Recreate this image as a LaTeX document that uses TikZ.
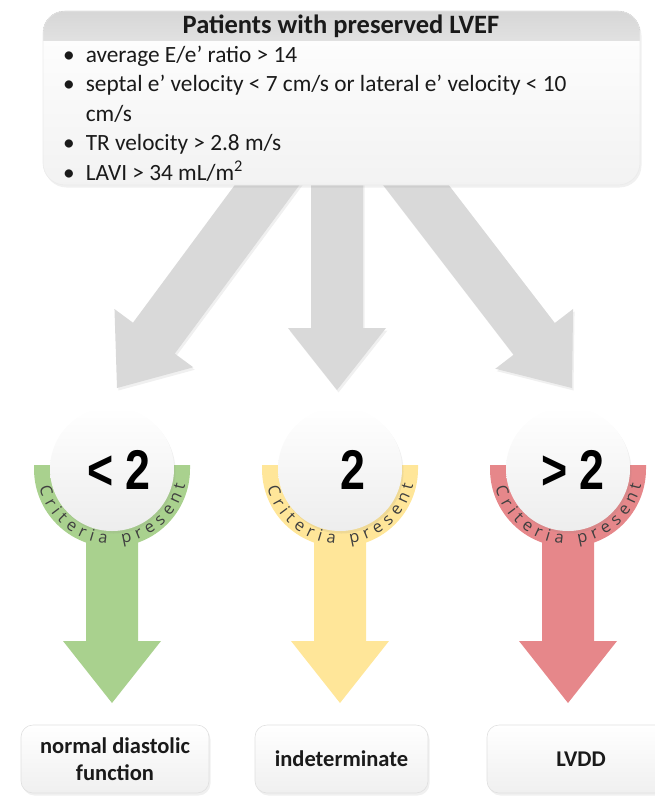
\documentclass[tikz,border=0pt]{standalone}
\usepackage{fontspec}
\setmainfont{Carlito}
\newfontfamily\numfont{Liberation Sans}
\newfontfamily\arcfont{Open Sans}
\usetikzlibrary{calc,shadows,decorations.text}
\definecolor{arrowgray}{HTML}{D9D9D9}
\definecolor{hdrgray}{HTML}{E1E1E1}
\definecolor{cgreen}{HTML}{A9D18E}
\definecolor{cyellow}{HTML}{FFE699}
\definecolor{cred}{HTML}{E6878A}
\definecolor{txt}{HTML}{1A1A1A}
\definecolor{arctxt}{HTML}{404040}
\newcommand\fatarrow[4]{% #1 start, #2 tip, #3 style, #4 prefix
  \coordinate (#4h) at ($(#2)!62pt!(#1)$);
  \fill[#3] ($(#1)!26pt!90:(#2)$) -- ($(#4h)!26pt!-90:(#1)$) -- ($(#4h)!49pt!-90:(#1)$)
    -- (#2) -- ($(#4h)!49pt!90:(#1)$) -- ($(#4h)!26pt!90:(#1)$) -- ($(#1)!26pt!-90:(#2)$) -- cycle;
}
\tikzset{
  softshadow/.style={drop shadow={opacity=0.12,shadow xshift=1.5pt,shadow yshift=-2.5pt}},
  resbox/.style={draw=black!12, line width=0.6pt, rounded corners=12pt, top color=white, bottom color=black!6,
    minimum width=188pt, minimum height=68pt, align=center, text=txt,
    font=\fontsize{22.5}{27}\selectfont\bfseries, softshadow},
  numtext/.style={font=\numfont\bfseries\fontsize{56}{56}\selectfont, text=black, inner sep=0pt},
  disc/.style={circle, minimum size=124pt, inner sep=0pt, top color=white, bottom color=black!7, softshadow},
  arcstyle/.style={decoration={text along path, text align={fit to path},
    text={|\arcfont\fontsize{16.5}{16.5}\selectfont\color{arctxt}|Criteria present}}, decorate},
}
\begin{document}
\begin{tikzpicture}[x=1pt,y=-1pt]
\useasboundingbox (0,0) rectangle (655,797);
% named anchor points
\coordinate (gLs) at (293,150); \coordinate (gLt) at (117,388);
\coordinate (gMs) at (337,150); \coordinate (gMt) at (337,390);
\coordinate (gRs) at (389,150); \coordinate (gRt) at (572,388);
% gray arrows
\fatarrow{gLs}{gLt}{arrowgray, softshadow}{gl}
\fatarrow{gMs}{gMt}{arrowgray, softshadow}{gm}
\fatarrow{gRs}{gRt}{arrowgray, softshadow}{gr}
% top box
\path[softshadow, rounded corners=22pt, top color=white, bottom color=black!5] (43,11) rectangle (640,185);
\begin{scope}
  \clip[rounded corners=22pt] (43,11) rectangle (640,185);
  \fill[top color=black!16, bottom color=hdrgray] (43,11) rectangle (640,41);
\end{scope}
\draw[black!8, line width=0.6pt, rounded corners=22pt] (43,11) rectangle (640,185);
\node[font=\bfseries\fontsize{26.5}{26.5}\selectfont, text=txt, anchor=base] (title) at (341,34) {Patients with preserved LVEF};
\node[anchor=north west, inner sep=0pt, text=txt, font=\fontsize{23.3}{29.5}\selectfont] (crit) at (63,41.5)
 {\begin{tabular}{@{}l@{\hspace{11pt}}l@{}}
  \textbullet & average E/e’ ratio > 14\\
  \textbullet & septal e’ velocity < 7 cm/s or lateral e’ velocity < 10\\
   & cm/s\\
  \textbullet & TR velocity > 2.8 m/s\\
  \textbullet & LAVI > 34 mL/m\textsuperscript{2}
 \end{tabular}};
% three outcome columns
\foreach \cx/\col/\lab/\nx/\nm in {112/cgreen/{< 2}/119/L, 340/cyellow/{2}/353/M, 568/cred/{> 2}/573/R}{
  \coordinate (c\nm) at (\cx,469);
  \coordinate (a\nm s) at (\cx,520); \coordinate (a\nm t) at (\cx,703);
  \fatarrow{a\nm s}{a\nm t}{\col}{ca\nm}
  \fill[\col] (\cx-78,465) -- (\cx-78,469) arc[start angle=180,end angle=360,radius=78pt] -- (\cx+78,465) -- cycle;
  \path[arcstyle] ($(c\nm)+(194:75pt)$) arc[start angle=194,end angle=348,radius=75pt];
  \node[disc] (d\nm) at (c\nm) {};
  \node[numtext] (n\nm) at (\nx,470) {\scalebox{0.8}[1]{\lab}};
}
% result boxes
\node[resbox] (rL) at (115,759) {normal diastolic\\function};
\node[resbox, minimum width=173pt] (rM) at (341.5,759) {indeterminate};
\node[resbox] (rR) at (581,759) {LVDD};
\end{tikzpicture}
\end{document}
